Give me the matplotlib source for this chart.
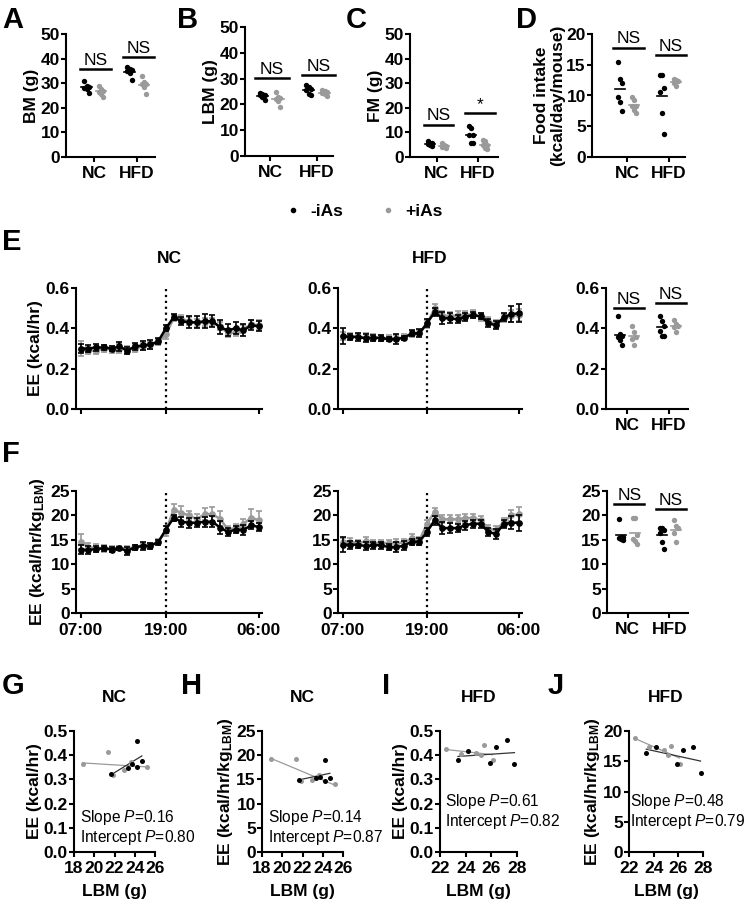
import numpy as np
import matplotlib
matplotlib.use('Agg')
import matplotlib.pyplot as plt
from matplotlib.lines import Line2D

plt.rcParams['font.family'] = ['Liberation Sans', 'DejaVu Sans']
plt.rcParams['font.weight'] = 'bold'
plt.rcParams['axes.labelweight'] = 'bold'
plt.rcParams['mathtext.fontset'] = 'custom'
plt.rcParams['mathtext.rm'] = 'Liberation Sans'
plt.rcParams['mathtext.bf'] = 'Liberation Sans:bold'
plt.rcParams['mathtext.it'] = 'Liberation Sans:italic:normal'

BLACK = '#000000'
GREY = '#9a9a9a'
FS = 12.5

# ---- dot plots (A-D, E/F summaries): -iAs / +iAs per diet
groups = ['NC', 'HFD']
bm_nc_ctrl = [30.8, 29.0, 28.5, 28.2, 27.6, 26.0]
bm_nc_ias = [28.8, 27.7, 27.0, 26.5, 25.8, 24.3]
bm_hfd_ctrl = [36.6, 35.8, 35.2, 34.8, 34.0, 31.3]
bm_hfd_ias = [33.1, 30.3, 29.8, 29.5, 28.3, 25.5]

lbm_nc_ctrl = [24.5, 24.0, 23.7, 23.5, 23.0, 21.6]
lbm_nc_ias = [25.0, 23.0, 22.6, 22.2, 21.5, 19.0]
lbm_hfd_ctrl = [27.5, 26.8, 26.0, 25.5, 24.0, 23.5]
lbm_hfd_ias = [25.6, 25.2, 24.8, 24.5, 24.2, 23.3]

fm_nc_ctrl = [6.5, 5.8, 5.5, 5.2, 5.0, 4.5]
fm_nc_ias = [5.8, 5.0, 4.5, 4.2, 4.0, 3.8]
fm_hfd_ctrl = [12.5, 11.8, 9.0, 8.8, 5.8, 5.5]
fm_hfd_ias = [7.0, 6.5, 5.0, 4.8, 3.5, 3.2]

food_nc_ctrl = [15.4, 12.7, 12.1, 9.8, 8.9, 7.5]
food_nc_ias = [9.8, 9.3, 8.3, 8.3, 7.7, 7.2]
food_hfd_ctrl = [13.4, 13.4, 11.2, 10.6, 7.1, 3.7]
food_hfd_ias = [12.7, 12.5, 12.3, 12.0, 11.6]

ee_nc_ctrl = [0.46, 0.372, 0.364, 0.355, 0.34, 0.318]
ee_nc_ias = [0.413, 0.38, 0.355, 0.347, 0.318]
ee_hfd_ctrl = [0.463, 0.438, 0.413, 0.388, 0.364, 0.364]
ee_hfd_ias = [0.443, 0.42, 0.41, 0.405, 0.38]

eel_nc_ctrl = [19.2, 15.6, 15.5, 15.3, 15.1, 14.9]
eel_nc_ias = [19.5, 19.5, 15.9, 15.2, 14.7, 14.1]
eel_hfd_ctrl = [17.5, 17.5, 17.0, 16.3, 14.6, 13.2]
eel_hfd_ias = [19.0, 17.8, 17.5, 16.3, 14.6]

# ---- hourly energy expenditure (E, F)
time_labels = ['07:00', '19:00', '06:00']
ee_nc_ctrl_t = [0.30, 0.30, 0.305, 0.305, 0.30, 0.31, 0.29, 0.31, 0.315, 0.32, 0.335, 0.40,
                0.455, 0.435, 0.43, 0.43, 0.435, 0.435, 0.405, 0.39, 0.40, 0.39, 0.415, 0.41]
ee_nc_ctrl_e = [0.02, 0.015, 0.015, 0.01, 0.01, 0.02, 0.015, 0.015, 0.02, 0.02, 0.015, 0.015,
                0.015, 0.02, 0.03, 0.03, 0.035, 0.03, 0.035, 0.03, 0.03, 0.03, 0.025, 0.025]
ee_nc_ias_t = [0.30, 0.29, 0.29, 0.30, 0.295, 0.30, 0.295, 0.30, 0.31, 0.315, 0.33, 0.37,
               0.45, 0.445, 0.435, 0.425, 0.43, 0.43, 0.41, 0.375, 0.38, 0.395, 0.42, 0.415]
ee_nc_ias_e = [0.035, 0.015, 0.015, 0.015, 0.015, 0.02, 0.015, 0.015, 0.015, 0.015, 0.015, 0.025,
               0.015, 0.02, 0.02, 0.02, 0.02, 0.02, 0.02, 0.02, 0.02, 0.02, 0.02, 0.025]
ee_hfd_ctrl_t = [0.36, 0.358, 0.358, 0.35, 0.353, 0.353, 0.345, 0.347, 0.353, 0.375, 0.375, 0.425,
                 0.48, 0.45, 0.45, 0.445, 0.458, 0.465, 0.46, 0.425, 0.415, 0.455, 0.47, 0.475]
ee_hfd_ctrl_e = [0.04, 0.015, 0.02, 0.02, 0.015, 0.015, 0.01, 0.025, 0.01, 0.015, 0.02, 0.02,
                 0.02, 0.03, 0.025, 0.02, 0.02, 0.015, 0.015, 0.02, 0.02, 0.02, 0.04, 0.045]
ee_hfd_ias_t = [0.36, 0.36, 0.355, 0.355, 0.355, 0.35, 0.35, 0.35, 0.355, 0.37, 0.375, 0.42,
                0.50, 0.465, 0.46, 0.465, 0.465, 0.47, 0.455, 0.435, 0.42, 0.45, 0.46, 0.465]
ee_hfd_ias_e = [0.02, 0.015, 0.015, 0.02, 0.015, 0.015, 0.015, 0.015, 0.015, 0.015, 0.015, 0.02,
                0.02, 0.02, 0.02, 0.02, 0.02, 0.02, 0.02, 0.02, 0.02, 0.02, 0.03, 0.03]

eel_nc_ctrl_t = [13.0, 12.9, 13.1, 13.25, 13.0, 13.3, 12.7, 13.5, 13.7, 13.8, 14.5, 17.1,
                 19.5, 18.7, 18.5, 18.5, 18.7, 18.7, 17.5, 16.6, 17.1, 17.0, 18.0, 17.6]
eel_nc_ctrl_e = [1.0, 0.8, 0.7, 0.5, 0.6, 0.3, 0.8, 0.5, 0.8, 0.6, 0.5, 0.8,
                 0.6, 1.0, 1.0, 0.9, 1.0, 1.1, 1.3, 0.9, 0.8, 1.0, 0.8, 0.8]
eel_nc_ias_t = [14.6, 13.5, 13.3, 13.3, 13.1, 13.4, 13.2, 13.5, 13.9, 13.9, 14.6, 16.8,
                21.2, 20.5, 20.0, 19.2, 20.3, 20.2, 19.3, 17.1, 17.4, 18.3, 19.5, 19.0]
eel_nc_ias_e = [1.5, 0.8, 0.8, 0.7, 0.7, 0.4, 0.6, 0.5, 0.5, 0.5, 0.5, 1.0,
                1.2, 1.5, 1.0, 1.1, 1.2, 1.5, 1.5, 0.8, 0.8, 0.9, 1.8, 2.0]
eel_hfd_ctrl_t = [14.0, 14.0, 14.0, 13.7, 13.9, 13.9, 13.5, 13.5, 13.8, 14.6, 14.6, 16.6,
                  19.0, 17.4, 17.4, 17.4, 18.0, 18.3, 18.3, 16.6, 16.2, 18.2, 18.5, 18.5]
eel_hfd_ctrl_e = [1.5, 0.8, 0.7, 0.8, 0.7, 0.7, 0.6, 1.0, 0.9, 0.6, 0.7, 0.8,
                  0.9, 1.2, 1.0, 0.9, 0.9, 0.8, 0.8, 0.8, 1.0, 0.8, 1.3, 1.6]
eel_hfd_ias_t = [14.6, 14.6, 14.3, 14.7, 14.3, 14.4, 14.3, 14.4, 14.4, 15.3, 14.8, 18.3,
                 20.7, 19.2, 19.2, 19.2, 19.4, 19.5, 19.0, 17.3, 17.0, 18.6, 20.0, 20.2]
eel_hfd_ias_e = [0.8, 0.8, 0.7, 0.9, 0.6, 0.6, 0.6, 0.8, 0.8, 0.8, 0.8, 0.8,
                 0.8, 0.8, 0.8, 0.8, 0.9, 0.8, 0.8, 0.8, 0.8, 0.9, 1.2, 1.5]

# ---- EE vs LBM (G-J)
lbm_x_nc_ctrl = [21.7, 23.3, 23.7, 24.2, 24.2, 24.7]
lbm_x_nc_ias = [18.85, 21.4, 21.9, 22.9, 23.6, 25.2]
lbm_x_hfd_ctrl = [23.4, 24.2, 25.9, 26.4, 27.2, 27.8]
lbm_x_hfd_ias = [22.5, 23.6, 24.8, 25.2, 25.4, 26.1]
ee_y_nc_ctrl = [0.322, 0.348, 0.363, 0.459, 0.352, 0.374]
ee_y_nc_ias = [0.362, 0.414, 0.318, 0.338, 0.371, 0.352]
ee_y_hfd_ctrl = [0.379, 0.416, 0.368, 0.434, 0.462, 0.362]
ee_y_hfd_ias = [0.425, 0.407, 0.411, 0.40, 0.441, 0.382]
eel_y_nc_ctrl = [14.9, 15.3, 15.5, 19.1, 14.7, 15.2]
eel_y_nc_ias = [19.3, 19.3, 14.7, 14.9, 15.9, 14.0]
eel_y_hfd_ctrl = [16.4, 17.3, 14.5, 16.8, 17.4, 13.1]
eel_y_hfd_ias = [18.8, 17.3, 16.8, 16.1, 17.6, 14.6]

W, H = 745, 900
fig = plt.figure(figsize=(W / 100, H / 100), dpi=100)


def ax_at(x0, x1, ytop, ybot):
    ax = fig.add_axes([x0 / W, 1 - ybot / H, (x1 - x0) / W, (ybot - ytop) / H])
    for s in ['top', 'right']:
        ax.spines[s].set_visible(False)
    for s in ['left', 'bottom']:
        ax.spines[s].set_linewidth(1.5)
    ax.tick_params(width=1.5, length=3.5, labelsize=FS, pad=1)
    return ax


def letter(txt, x, y):
    fig.text(x / W, 1 - y / H, txt, fontsize=21, fontweight='bold', va='top', ha='left')


def dot_panel(ax, data, ylim, yticks, xlim, bars, marks=('NS', 'NS')):
    for i, (ctrl, ias) in enumerate(data):
        for vals, off, col in [(ctrl, -0.17, BLACK), (ias, 0.17, GREY)]:
            vals = np.asarray(vals)
            xs = i + off + (np.arange(len(vals)) % 3 - 1) * 0.05
            ax.scatter(xs, vals, s=15, color=col, zorder=3, linewidths=0)
            m = vals.mean()
            ax.plot([i + off - 0.12, i + off + 0.12], [m, m], color=col, lw=1.2, zorder=2)
        ax.plot([i - 0.32, i + 0.4], [bars[i], bars[i]], color='black', lw=1.8, clip_on=False)
        ax.text(i + 0.04, bars[i] + (ylim[1] - ylim[0]) * 0.01, marks[i], ha='center', va='bottom',
                fontsize=FS, fontweight='normal')
    ax.set_xlim(*xlim)
    ax.set_ylim(*ylim)
    ax.set_yticks(yticks)
    ax.set_xticks(range(len(groups)))
    ax.set_xticklabels(groups, fontsize=FS)
    ax.tick_params(axis='x', pad=3)


def time_panel(ax, ctrl, ctrl_e, ias, ias_e, ylim, yticks, labels):
    x = np.arange(len(ctrl))
    ax.errorbar(x, ias, yerr=ias_e, color=GREY, marker='o', ms=3.8, lw=1.8,
                elinewidth=1.2, capsize=2.5, capthick=1.2, zorder=2)
    ax.errorbar(x, ctrl, yerr=ctrl_e, color=BLACK, marker='o', ms=3.8, lw=1.8,
                elinewidth=1.2, capsize=2.5, capthick=1.2, zorder=3)
    ax.axvline(11, color='black', ls=':', lw=1.6, zorder=1)
    ax.set_ylim(*ylim)
    ax.set_yticks(yticks)
    ax.set_xlim(-0.6, len(ctrl) - 0.6)
    ax.set_xticks([0, 11, len(ctrl) - 1])
    ax.tick_params(axis='x', pad=4)
    if labels:
        ax.set_xticklabels(time_labels, fontsize=FS)
    else:
        ax.set_xticklabels([])


def reg_panel(ax, xc, yc, xi, yi, xlim, xticks, ylim, yticks, ptxt, title, ylabel, tx, ty):
    for xs, ys, col in [(xi, yi, GREY), (xc, yc, BLACK)]:
        xs, ys = np.asarray(xs), np.asarray(ys)
        ax.scatter(xs, ys, s=13, color=col, zorder=3, linewidths=0)
        k, b = np.polyfit(xs, ys, 1)
        xx = np.array([xs.min(), xs.max()])
        ax.plot(xx, k * xx + b, color=col if col == GREY else '#333333', lw=0.9, zorder=2)
    ax.set_xlim(*xlim)
    ax.set_xticks(xticks)
    ax.set_ylim(*ylim)
    ax.set_yticks(yticks)
    ax.tick_params(axis='x', pad=3)
    ax.set_xlabel('LBM (g)', fontsize=FS, labelpad=6)
    ax.set_ylabel(ylabel, fontsize=FS, labelpad=1)
    ax.set_title(title, fontsize=FS, fontweight='bold', pad=21)
    ax.text(tx, ty, 'Slope $\\mathit{P}$=' + ptxt[0] + '\nIntercept $\\mathit{P}$=' + ptxt[1],
            transform=ax.transAxes, fontsize=11.2, fontweight='normal', va='bottom', ha='left',
            linespacing=1.1)


# ---- row 1
ax = ax_at(66, 155, 34, 157)
dot_panel(ax, [(bm_nc_ctrl, bm_nc_ias), (bm_hfd_ctrl, bm_hfd_ias)], (0, 50), range(0, 51, 10),
          (-0.65, 1.42), [35.7, 40.6])
ax.set_ylabel('BM (g)', fontsize=FS, labelpad=1)

ax = ax_at(245, 333, 27, 156)
dot_panel(ax, [(lbm_nc_ctrl, lbm_nc_ias), (lbm_hfd_ctrl, lbm_hfd_ias)], (0, 50), range(0, 51, 10),
          (-0.54, 1.35), [30.3, 31.3])
ax.set_ylabel('LBM (g)', fontsize=FS, labelpad=1)

ax = ax_at(410, 498, 34, 157)
dot_panel(ax, [(fm_nc_ctrl, fm_nc_ias), (fm_hfd_ctrl, fm_hfd_ias)], (0, 50), range(0, 51, 10),
          (-0.65, 1.48), [13.2, 17.7], marks=('NS', '*'))
ax.set_ylabel('FM (g)', fontsize=FS, labelpad=1)

ax = ax_at(592, 685, 34, 157)
dot_panel(ax, [(food_nc_ctrl, food_nc_ias), (food_hfd_ctrl, food_hfd_ias)], (0, 20), range(0, 21, 5),
          (-0.83, 1.38), [17.8, 16.6])
ax.set_ylabel('Food intake\n(kcal/day/mouse)', fontsize=FS, labelpad=1, linespacing=1.1)

# legend
handles = [Line2D([], [], ls='', marker='o', ms=3, color=BLACK),
           Line2D([], [], ls='', marker='o', ms=3, color=GREY)]
fig.legend(handles, ['-iAs', '+iAs'], loc='center', bbox_to_anchor=(0.487, 1 - 211 / H), ncol=2,
           frameon=False, fontsize=FS, handletextpad=0.4, columnspacing=2.0, handlelength=1.2)

# ---- row E
ax = ax_at(76, 262, 288, 409)
time_panel(ax, ee_nc_ctrl_t, ee_nc_ctrl_e, ee_nc_ias_t, ee_nc_ias_e, (0, 0.6), [0, 0.2, 0.4, 0.6], False)
ax.set_yticklabels(['0.0', '0.2', '0.4', '0.6'])
ax.set_ylabel('EE (kcal/hr)', fontsize=FS, labelpad=2)
ax.set_title('NC', fontsize=FS, fontweight='bold', pad=18)

ax = ax_at(338, 522, 288, 409)
time_panel(ax, ee_hfd_ctrl_t, ee_hfd_ctrl_e, ee_hfd_ias_t, ee_hfd_ias_e, (0, 0.6), [0, 0.2, 0.4, 0.6], False)
ax.set_yticklabels(['0.0', '0.2', '0.4', '0.6'])
ax.set_title('HFD', fontsize=FS, fontweight='bold', pad=18)

ax = ax_at(606, 688, 288, 409)
dot_panel(ax, [(ee_nc_ctrl, ee_nc_ias), (ee_hfd_ctrl, ee_hfd_ias)], (0, 0.6), [0, 0.2, 0.4, 0.6],
          (-0.5, 1.45), [0.50, 0.525])
ax.set_yticklabels(['0.0', '0.2', '0.4', '0.6'])

# ---- row F
ylab_f = 'EE (kcal/hr/kg$_{\\mathbf{LBM}}$)'
ax = ax_at(76, 262, 491, 613)
time_panel(ax, eel_nc_ctrl_t, eel_nc_ctrl_e, eel_nc_ias_t, eel_nc_ias_e, (0, 25), range(0, 26, 5), True)
ax.set_ylabel(ylab_f, fontsize=FS, labelpad=2)

ax = ax_at(338, 522, 491, 613)
time_panel(ax, eel_hfd_ctrl_t, eel_hfd_ctrl_e, eel_hfd_ias_t, eel_hfd_ias_e, (0, 25), range(0, 26, 5), True)

ax = ax_at(607, 688, 491, 613)
dot_panel(ax, [(eel_nc_ctrl, eel_nc_ias), (eel_hfd_ctrl, eel_hfd_ias)], (0, 25), range(0, 26, 5),
          (-0.5, 1.45), [22.3, 21.3])

# ---- row G-J
ax = ax_at(74, 155, 731, 852)
reg_panel(ax, lbm_x_nc_ctrl, ee_y_nc_ctrl, lbm_x_nc_ias, ee_y_nc_ias, (18, 26), range(18, 27, 2),
          (0, 0.5), [0, 0.1, 0.2, 0.3, 0.4, 0.5], ('0.16', '0.80'), 'NC', 'EE (kcal/hr)', 0.07, 0.04)
ax.set_yticklabels(['0.0', '0.1', '0.2', '0.3', '0.4', '0.5'])

ax = ax_at(262, 343, 731, 852)
reg_panel(ax, lbm_x_nc_ctrl, eel_y_nc_ctrl, lbm_x_nc_ias, eel_y_nc_ias, (18, 26), range(18, 27, 2),
          (0, 25), range(0, 26, 5), ('0.14', '0.87'), 'NC', ylab_f, 0.07, 0.04)

ax = ax_at(440, 517, 731, 852)
reg_panel(ax, lbm_x_hfd_ctrl, ee_y_hfd_ctrl, lbm_x_hfd_ias, ee_y_hfd_ias, (22, 28), range(22, 29, 2),
          (0, 0.5), [0, 0.1, 0.2, 0.3, 0.4, 0.5], ('0.61', '0.82'), 'HFD', 'EE (kcal/hr)', 0.07, 0.17)
ax.set_yticklabels(['0.0', '0.1', '0.2', '0.3', '0.4', '0.5'])

ax = ax_at(629, 703, 731, 852)
reg_panel(ax, lbm_x_hfd_ctrl, eel_y_hfd_ctrl, lbm_x_hfd_ias, eel_y_hfd_ias, (22, 28), range(22, 29, 2),
          (0, 20), range(0, 21, 5), ('0.48', '0.79'), 'HFD', ylab_f, 0.02, 0.17)

# ---- panel letters
letter('A', 2, 6)
letter('B', 177, 6)
letter('C', 346, 6)
letter('D', 516, 6)
letter('E', 2, 228)
letter('F', 2, 440)
letter('G', 2, 672)
letter('H', 181, 672)
letter('I', 382, 672)
letter('J', 548, 672)

fig.savefig('out.png', dpi=100)
